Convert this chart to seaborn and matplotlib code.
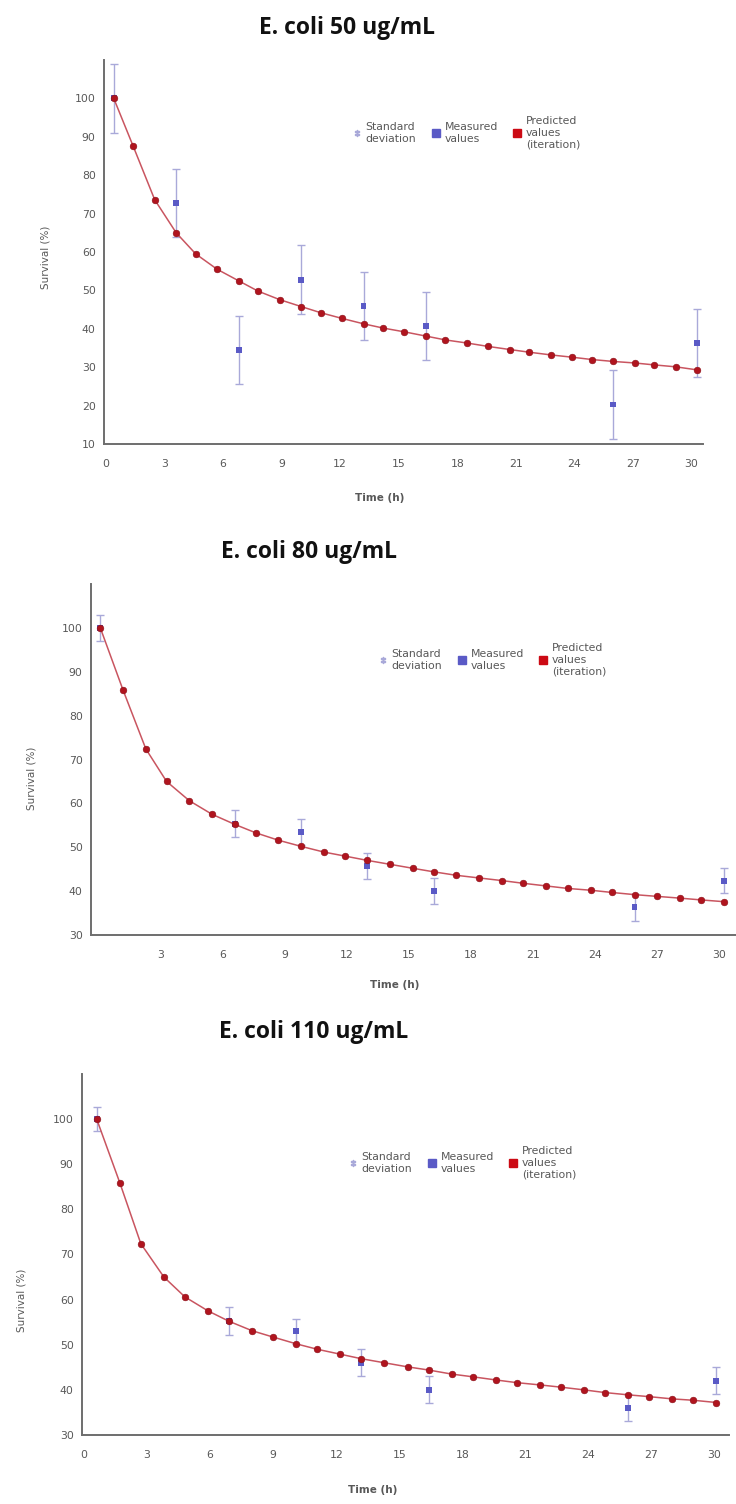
import matplotlib
matplotlib.use("Agg")
import matplotlib.pyplot as plt
from matplotlib.lines import Line2D
from matplotlib.ticker import MultipleLocator
import seaborn as sns
import pandas as pd

# time grid of the fitted (predicted) curve, one per panel
t50 = [0.4, 1.4, 2.5, 3.6, 4.6, 5.7, 6.8, 7.8, 8.9, 10.0, 11.0, 12.1, 13.2, 14.2, 15.3,
       16.4, 17.4, 18.5, 19.6, 20.7, 21.7, 22.8, 23.9, 24.9, 26.0, 27.1, 28.1, 29.2, 30.3]
t80 = [0.1, 1.2, 2.3, 3.3, 4.4, 5.5, 6.6, 7.6, 8.7, 9.8, 10.9, 11.9, 13.0, 14.1, 15.2,
       16.2, 17.3, 18.4, 19.5, 20.5, 21.6, 22.7, 23.8, 24.8, 25.9, 27.0, 28.1, 29.1, 30.2]
t110 = [0.6, 1.7, 2.7, 3.8, 4.8, 5.9, 6.9, 8.0, 9.0, 10.1, 11.1, 12.2, 13.2, 14.3, 15.4,
        16.4, 17.5, 18.5, 19.6, 20.6, 21.7, 22.7, 23.8, 24.8, 25.9, 26.9, 28.0, 29.0, 30.1]

pred50 = [100, 87.5, 73.6, 65.0, 59.5, 55.5, 52.5, 49.8, 47.6, 45.8, 44.2, 42.7, 41.3, 40.2, 39.2,
          38.1, 37.1, 36.3, 35.4, 34.6, 33.9, 33.2, 32.6, 32.0, 31.5, 31.1, 30.6, 30.1, 29.3]
pred80 = [100, 85.8, 72.4, 65.0, 60.6, 57.5, 55.2, 53.3, 51.6, 50.2, 48.9, 48.0, 47.0, 46.1, 45.2,
          44.4, 43.6, 43.0, 42.4, 41.8, 41.2, 40.6, 40.2, 39.7, 39.2, 38.8, 38.4, 38.0, 37.6]
pred110 = [100, 85.9, 72.4, 65.0, 60.6, 57.5, 55.2, 53.1, 51.7, 50.2, 49.0, 47.9, 46.9, 46.0, 45.1,
           44.4, 43.5, 42.9, 42.2, 41.6, 41.1, 40.6, 40.0, 39.4, 38.9, 38.5, 38.0, 37.7, 37.2]

# measured values with standard deviation
mt50 = [0.4, 3.6, 6.8, 10.0, 13.2, 16.4, 26.0, 30.3]
meas50 = [100, 72.8, 34.5, 52.8, 46.0, 40.8, 20.3, 36.3]
sd50 = [8.9, 8.9, 8.9, 8.9, 8.9, 8.9, 8.9, 8.9]

mt80 = [0.1, 6.6, 9.8, 13.0, 16.2, 25.9, 30.2]
meas80 = [100, 55.4, 53.4, 45.8, 40.1, 36.3, 42.4]
sd80 = [2.9, 3.0, 3.0, 3.0, 3.0, 3.0, 2.9]

mt110 = [0.6, 6.9, 10.1, 13.2, 16.4, 25.9, 30.1]
meas110 = [100, 55.3, 53.0, 46.0, 40.0, 36.0, 42.0]
sd110 = [2.7, 3.1, 2.8, 3.0, 3.0, 3.0, 3.0]

titles = ["E. coli 50 ug/mL", "E. coli 80 ug/mL", "E. coli 110 ug/mL"]

sns.set_theme(style="white")
plt.rcParams["font.family"] = ["DejaVu Sans"]

W, H = 736, 1504
fig = plt.figure(figsize=(W / 100, H / 100), dpi=100)

RED = "#b0141e"
LINE = "#c95560"
BLUE = "#5a5ac6"
ERR = "#a9a9d9"
AX = "#6e6e6e"
TXT = "#585858"


def px_axes(left, right, top, bottom):
    return fig.add_axes([left / W, 1 - bottom / H, (right - left) / W, (bottom - top) / H])


panels = [
    dict(box=(104, 703, 60, 444), xlim=(-0.1, 30.6), ylim=(10, 110), xt=range(0, 31, 3),
         t=t50, p=pred50, mt=mt50, m=meas50, sd=sd50,
         title=(347, 28), xlab=(380, 498), ylab=(45, 257), leg=(343, 133)),
    dict(box=(91, 736, 584, 935), xlim=(-0.35, 30.8), ylim=(30, 110), xt=range(3, 31, 3),
         t=t80, p=pred80, mt=mt80, m=meas80, sd=sd80,
         title=(309, 552), xlab=(395, 985), ylab=(31, 778), leg=(369, 660)),
    dict(box=(82, 729, 1074, 1435), xlim=(-0.1, 30.7), ylim=(30, 110), xt=range(0, 31, 3),
         t=t110, p=pred110, mt=mt110, m=meas110, sd=sd110,
         title=(314, 1032), xlab=(373, 1490), ylab=(21, 1300), leg=(339, 1163)),
]

for i, pn in enumerate(panels):
    ax = px_axes(*pn["box"])
    pred = pd.DataFrame({"Time (h)": pn["t"], "Survival (%)": pn["p"]})
    meas = pd.DataFrame({"Time (h)": pn["mt"], "Survival (%)": pn["m"], "sd": pn["sd"]})

    ax.errorbar(meas["Time (h)"], meas["Survival (%)"], yerr=meas["sd"], fmt="none",
                ecolor=ERR, elinewidth=1.0, capsize=3, capthick=1.0, zorder=1)
    sns.scatterplot(data=meas, x="Time (h)", y="Survival (%)", ax=ax, marker="s", s=18,
                    color=BLUE, edgecolor="none", zorder=2)
    sns.lineplot(data=pred, x="Time (h)", y="Survival (%)", ax=ax, color=LINE, lw=1.1,
                 marker="o", markersize=4.8, markerfacecolor=RED, markeredgecolor="#8a0f18",
                 markeredgewidth=0.4, zorder=3)

    ax.set_xlim(*pn["xlim"])
    ax.set_ylim(*pn["ylim"])
    ax.set_xticks(list(pn["xt"]))
    ax.yaxis.set_minor_locator(MultipleLocator(5))
    yt = list(range(int(pn["ylim"][0]), 111, 10))
    ax.set_yticks(yt)
    ax.set_yticklabels([str(v) if v <= 100 else "" for v in yt])
    ax.set_xlabel("")
    ax.set_ylabel("")
    for side in ["top", "right"]:
        ax.spines[side].set_visible(False)
    for side in ["left", "bottom"]:
        ax.spines[side].set_color(AX)
        ax.spines[side].set_linewidth(1.4)
    ax.tick_params(which="major", direction="inout", length=4, width=1.2, color=AX,
                   labelsize=7.8, labelcolor=TXT, pad=4)
    ax.tick_params(axis="x", which="major", pad=9)
    ax.tick_params(which="minor", direction="inout", length=3, width=1.0, color=AX)
    if ax.get_legend():
        ax.get_legend().remove()

    fig.text(pn["title"][0] / W, 1 - pn["title"][1] / H, titles[i], ha="center", va="center",
             fontsize=16.5, fontweight="bold", family=["Open Sans", "DejaVu Sans"], color="#111111")
    fig.text(pn["xlab"][0] / W, 1 - pn["xlab"][1] / H, "Time (h)", ha="center", va="center",
             fontsize=7.5, color=TXT, fontweight="bold")
    fig.text(pn["ylab"][0] / W, 1 - pn["ylab"][1] / H, "Survival (%)", ha="center", va="center",
             fontsize=7.5, color=TXT, rotation=90)

    handles = [
        Line2D([], [], ls="none", marker="$\u2021$", markersize=5, color=ERR),
        Line2D([], [], ls="none", marker="s", markersize=6, color=BLUE),
        Line2D([], [], ls="none", marker="s", markersize=6, color="#cc0a14"),
    ]
    labels = ["Standard\ndeviation", "Measured\nvalues", "Predicted\nvalues\n(iteration)"]
    leg = ax.legend(handles, labels, ncol=3, frameon=False, fontsize=7.8,
                    loc="center left", bbox_to_anchor=(pn["leg"][0] / W, 1 - pn["leg"][1] / H),
                    bbox_transform=fig.transFigure, handlelength=0.8, handletextpad=0.4,
                    columnspacing=1.4, labelspacing=0.1)
    for txt in leg.get_texts():
        txt.set_color(TXT)

fig.savefig("out.png", dpi=100)
